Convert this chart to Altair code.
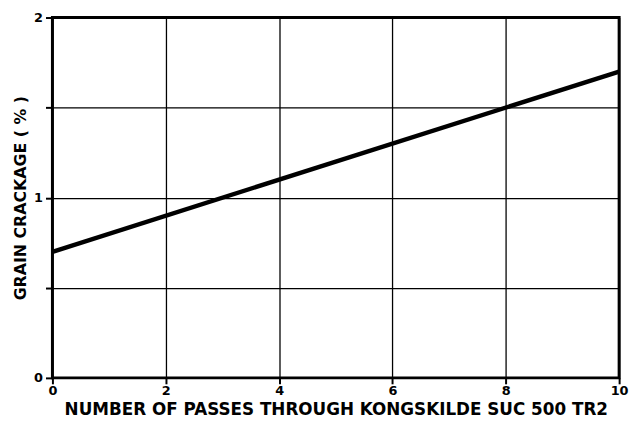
import altair as alt
import pandas as pd

passes = [0, 10]
crackage = [0.7, 1.7]
x_ticks = [0, 2, 4, 6, 8, 10]
y_ticks = [0, 0.5, 1, 1.5, 2]

df = pd.DataFrame({"passes": passes, "crackage": crackage})

FONT = "DejaVu Sans"

chart = alt.Chart(df).mark_line(color="black", strokeWidth=4.5).encode(
    x=alt.X("passes:Q", scale=alt.Scale(domain=[0, 10], nice=False),
            axis=alt.Axis(values=x_ticks, title="NUMBER OF PASSES THROUGH KONGSKILDE SUC 500 TR2",
                          format="d",
                          grid=True, gridColor="black", gridWidth=1.3, gridOpacity=1,
                          domain=False, tickColor="black", tickWidth=2, tickSize=6,
                          labelFont=FONT, labelFontWeight="bold", labelFontSize=13, labelColor="black",
                          labelPadding=1, labelFlush=False,
                          titleFont=FONT, titleFontWeight="bold", titleFontSize=17, titleColor="black",
                          titlePadding=4)),
    y=alt.Y("crackage:Q", scale=alt.Scale(domain=[0, 2], nice=False),
            axis=alt.Axis(values=y_ticks, title="GRAIN CRACKAGE ( % )",
                          labelExpr="datum.value % 1 == 0 ? '' + datum.value : ''",
                          grid=True, gridColor="black", gridWidth=1.3, gridOpacity=1,
                          domain=False, tickColor="black", tickWidth=2, tickSize=7,
                          labelFont=FONT, labelFontWeight="bold", labelFontSize=13, labelColor="black",
                          labelPadding=3, labelFlush=False,
                          titleFont=FONT, titleFontWeight="bold", titleFontSize=16, titleColor="black",
                          titlePadding=5)),
).properties(
    width=574, height=365,
    autosize="none",
    padding={"left": 45, "top": 7, "right": 10, "bottom": 40},
    background="white",
).configure_view(stroke="black", strokeWidth=3)

chart.save("out.html", embed_options={"renderer": "svg", "actions": False})
